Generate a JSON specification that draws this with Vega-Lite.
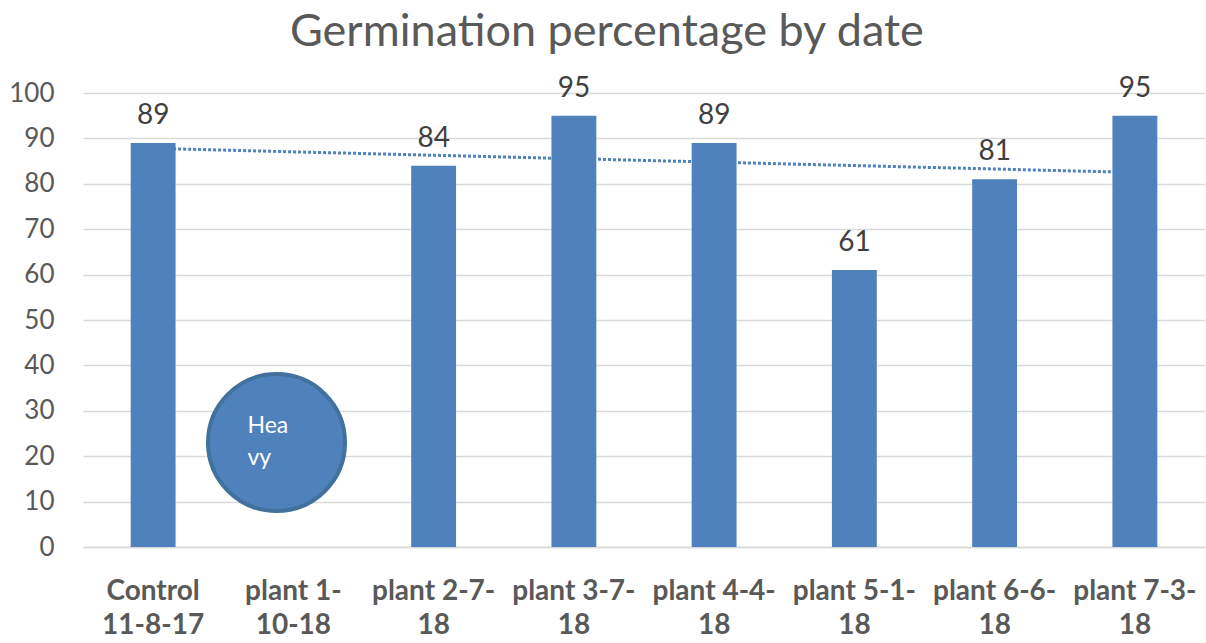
{
  "$schema": "https://vega.github.io/schema/vega-lite/v6.json",
  "width": 1122,
  "height": 454,
  "autosize": {"type": "none"},
  "padding": {"left": 83, "top": 93, "right": 1, "bottom": 96},
  "background": "white",
  "title": {
    "text": "Germination percentage by date",
    "font": "Lato",
    "fontSize": 45,
    "fontWeight": "normal",
    "color": "#595959",
    "anchor": "middle",
    "frame": "bounds",
    "offset": 20
  },
  "config": {
    "view": {"stroke": null},
    "font": "Lato"
  },
  "datasets": {
    "main": [
      {"category": "Control 11-8-17", "value": 89},
      {"category": "plant 1-10-18", "value": null},
      {"category": "plant 2-7-18", "value": 84},
      {"category": "plant 3-7-18", "value": 95},
      {"category": "plant 4-4-18", "value": 89},
      {"category": "plant 5-1-18", "value": 61},
      {"category": "plant 6-6-18", "value": 81},
      {"category": "plant 7-3-18", "value": 95}
    ],
    "trend": [
      {"category": "Control 11-8-17", "trend": 87.8},
      {"category": "plant 7-3-18", "trend": 82.5}
    ],
    "note": [
      {"category": "plant 1-10-18", "value": 23, "textValue": 25.1, "note": "Hea\nvy"}
    ]
  },
  "encoding": {
    "x": {
      "field": "category",
      "type": "nominal",
      "sort": null,
      "scale": {
        "type": "band",
        "domain": ["Control 11-8-17", "plant 1-10-18", "plant 2-7-18", "plant 3-7-18", "plant 4-4-18", "plant 5-1-18", "plant 6-6-18", "plant 7-3-18"],
        "paddingInner": 0.68,
        "paddingOuter": 0.34
      },
      "axis": {
        "title": null,
        "labelAngle": 0,
        "labelFont": "Lato",
        "labelFontSize": 28,
        "labelFontWeight": "bold",
        "labelColor": "#595959",
        "labelPadding": 30,
        "labelLineHeight": 34,
        "labelLimit": 0,
        "labelOverlap": false,
        "ticks": false,
        "domain": true,
        "domainColor": "#D9D9D9",
        "domainWidth": 1.5,
        "grid": false,
        "labelExpr": "datum.value == 'Control 11-8-17' ? ['Control','11-8-17'] : datum.value == 'plant 1-10-18' ? ['plant 1-','10-18'] : [slice(datum.value, 0, -2), '18']"
      }
    }
  },
  "layer": [
    {
      "data": {"name": "trend"},
      "mark": {"type": "line", "color": "#4F81BD", "strokeWidth": 3, "strokeDash": [3, 2]},
      "encoding": {
        "y": {
          "field": "trend",
          "type": "quantitative",
          "scale": {"domain": [0, 100], "nice": false},
          "axis": {
            "title": null,
            "values": [0, 10, 20, 30, 40, 50, 60, 70, 80, 90, 100],
            "labelFont": "Lato",
            "labelFontSize": 26,
            "labelColor": "#595959",
            "labelPadding": 29,
            "ticks": false,
            "domain": false,
            "grid": true,
            "gridColor": "#D9D9D9",
            "gridWidth": 1.5
          }
        }
      }
    },
    {
      "data": {"name": "main"},
      "mark": {"type": "bar", "color": "#4F81BD"},
      "encoding": {
        "y": {"field": "value", "type": "quantitative"}
      }
    },
    {
      "data": {"name": "main"},
      "mark": {"type": "text", "baseline": "alphabetic", "dy": -19, "font": "Lato", "fontSize": 28, "color": "#404040"},
      "encoding": {
        "y": {"field": "value", "type": "quantitative"},
        "text": {"field": "value", "type": "quantitative"}
      }
    },
    {
      "data": {"name": "note"},
      "mark": {"type": "point", "shape": "circle", "filled": true, "fill": "#4F81BD", "stroke": "#41719C", "strokeWidth": 4, "size": 18769, "opacity": 1},
      "encoding": {
        "x": {"field": "category", "type": "nominal", "bandPosition": 0.124},
        "y": {"field": "value", "type": "quantitative"}
      }
    },
    {
      "data": {"name": "note"},
      "mark": {"type": "text", "align": "left", "baseline": "alphabetic", "dx": -29, "font": "Lato", "fontSize": 23, "color": "white", "lineBreak": "\n", "lineHeight": 32},
      "encoding": {
        "x": {"field": "category", "type": "nominal", "bandPosition": 0.124},
        "y": {"field": "textValue", "type": "quantitative"},
        "text": {"field": "note"}
      }
    }
  ]
}
